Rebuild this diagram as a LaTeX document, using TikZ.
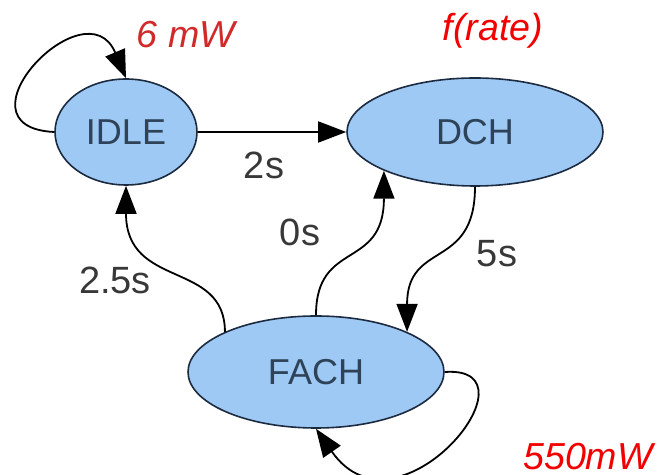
\documentclass[tikz,border=0pt]{standalone}
\usepackage{fontspec}
\setmainfont{Liberation Sans}
\usetikzlibrary{shapes.geometric,arrows.meta}
\definecolor{stfill}{HTML}{9EC9F5}
\definecolor{stline}{HTML}{1C2B40}
\definecolor{sttext}{HTML}{2E4358}
\definecolor{lbltext}{HTML}{383838}
\definecolor{wattred}{HTML}{D02A2A}
\definecolor{ratered}{HTML}{F20000}

\begin{document}
\begin{tikzpicture}[x=0.5pt,y=0.5pt,
  state/.style={ellipse,draw=stline,line width=0.8pt,fill=stfill,text=sttext,inner sep=0pt},
  trans/.style={-{Triangle[length=14pt,width=10.5pt]},line width=0.9pt},
  lbl/.style={text=lbltext,font=\fontsize{19}{22}\selectfont,inner sep=0pt},
  pwr/.style={font=\fontsize{18.8}{22}\selectfont\itshape,inner sep=0pt}]
\fontsize{18}{22}\selectfont
\useasboundingbox (0,0) rectangle (660,-475);

\node[state,minimum width=71pt,minimum height=53pt] (idle) at (126,-132) {IDLE};
\node[state,minimum width=128pt,minimum height=54pt] (dch) at (475,-132) {DCH};
\node[state,minimum width=128pt,minimum height=56pt] (fach) at (316,-372) {FACH};

\draw[trans] (idle.east) -- (dch.west);
\draw[trans] (idle.west) .. controls +(-105,5) and +(-40,95) .. (idle.north);
\draw[trans] (dch.south) .. controls +(0,-84) and +(0,92) .. (fach.north east);
\draw[trans] (fach.north) .. controls +(0,76) and +(0,-100) .. (dch.south west);
\draw[trans] (fach.north west) .. controls +(0,72) and +(0,-104) .. (idle.south);
\draw[trans] (fach.east) .. controls +(100,7) and +(82,-118) .. (fach.south);

\node[lbl] (t1) at (264,-165) {2s};
\node[lbl] (t2) at (300,-232) {0s};
\node[lbl] (t3) at (115,-280) {2.5s};
\node[lbl] (t4) at (497,-254) {5s};

\node[pwr,text=wattred] (p1) at (186,-35) {6 mW};
\node[pwr,text=ratered] (p2) at (493,-31) {f(rate)};
\node[pwr,text=ratered] (p3) at (588,-457) {550mW};
\end{tikzpicture}
\end{document}
